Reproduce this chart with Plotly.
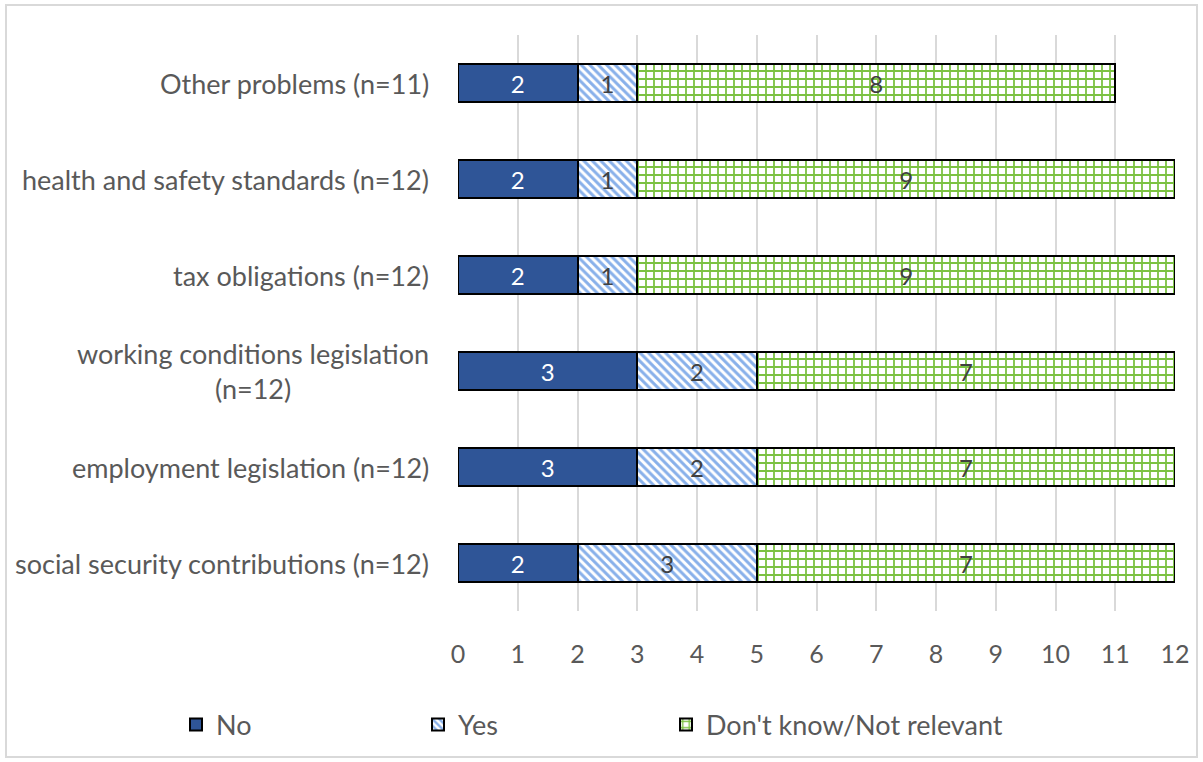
import plotly.graph_objects as go

categories = [
    "social security contributions (n=12)",
    "employment legislation (n=12)",
    "working conditions legislation<br>(n=12)",
    "tax obligations (n=12)",
    "health and safety standards (n=12)",
    "Other problems (n=11)",
]
no_vals = [2, 3, 3, 2, 2, 2]
yes_vals = [3, 2, 2, 1, 1, 1]
dk_vals = [7, 7, 7, 9, 9, 8]
series_names = ["No", "Yes", "Don't know/Not relevant"]
x_ticks = list(range(0, 13))

W, H = 1203, 762
ML, MR, MT, MB = 458, 28, 35, 151
pw, ph = W - ML - MR, H - MT - MB

FONT = "Lato"
GREY = "#595959"
ypos = list(range(len(categories)))

fig = go.Figure()
fig.add_trace(go.Bar(
    y=ypos, x=no_vals, orientation="h", name=series_names[0], legend="legend",
    marker=dict(color="#2f5597", line=dict(color="black", width=2)),
    text=no_vals, textposition="inside", insidetextanchor="middle",
    textfont=dict(color="white", size=24, family=FONT), width=0.4,
))
fig.add_trace(go.Bar(
    y=ypos, x=yes_vals, orientation="h", name=series_names[1], legend="legend2",
    marker=dict(color="white", line=dict(color="black", width=2),
                pattern=dict(shape="\\", fgcolor="#88b0ea", bgcolor="white",
                             size=6, solidity=0.5, fgopacity=1)),
    text=yes_vals, textposition="inside", insidetextanchor="middle",
    textfont=dict(color="#404040", size=24, family=FONT), width=0.4,
))
fig.add_trace(go.Bar(
    y=ypos, x=dk_vals, orientation="h", name=series_names[2], legend="legend3",
    marker=dict(color="white", line=dict(color="black", width=2),
                pattern=dict(shape="+", fgcolor="#7cc242", bgcolor="white",
                             size=8, solidity=0.4, fgopacity=1)),
    text=dk_vals, textposition="inside", insidetextanchor="middle",
    textfont=dict(color="#404040", size=24, family=FONT), width=0.4,
))

annotations = []
for i, c in enumerate(categories):
    annotations.append(dict(
        x=-0.038, xref="paper", y=i, yref="y", text=c, showarrow=False,
        xanchor="right", yanchor="middle", align="center",
        font=dict(family=FONT, size=27, color=GREY),
    ))

def px_x(px):
    return (px - ML) / pw

def px_y(py):
    return (H - MB - py) / ph

legend_common = dict(orientation="h", yanchor="middle", xanchor="left",
                     font=dict(family=FONT, size=27, color=GREY),
                     bgcolor="rgba(0,0,0,0)", itemwidth=30, tracegroupgap=0)

fig.update_layout(
    width=W, height=H,
    margin=dict(l=ML, r=MR, t=MT, b=MB, autoexpand=False),
    paper_bgcolor="white", plot_bgcolor="white",
    barmode="stack", showlegend=True,
    legend=dict(x=px_x(176), y=px_y(725), **legend_common),
    legend2=dict(x=px_x(418), y=px_y(725), **legend_common),
    legend3=dict(x=px_x(666), y=px_y(725), **legend_common),
    xaxis=dict(range=[0, 12], tickvals=x_ticks, showgrid=True, gridcolor="#d9d9d9",
               gridwidth=2, zeroline=False, showline=False,
               tickfont=dict(family=FONT, size=25, color=GREY), ticklabelstandoff=26),
    yaxis=dict(range=[-0.5, len(categories) - 0.5], showticklabels=False,
               showgrid=False, zeroline=False, showline=False),
    annotations=annotations,
    shapes=[dict(type="rect", xref="paper", yref="paper",
                 x0=px_x(6), x1=px_x(1197), y0=px_y(757), y1=px_y(5),
                 line=dict(color="#d9d9d9", width=2), fillcolor="rgba(0,0,0,0)", layer="below")],
)
fig.write_html("out.html")
